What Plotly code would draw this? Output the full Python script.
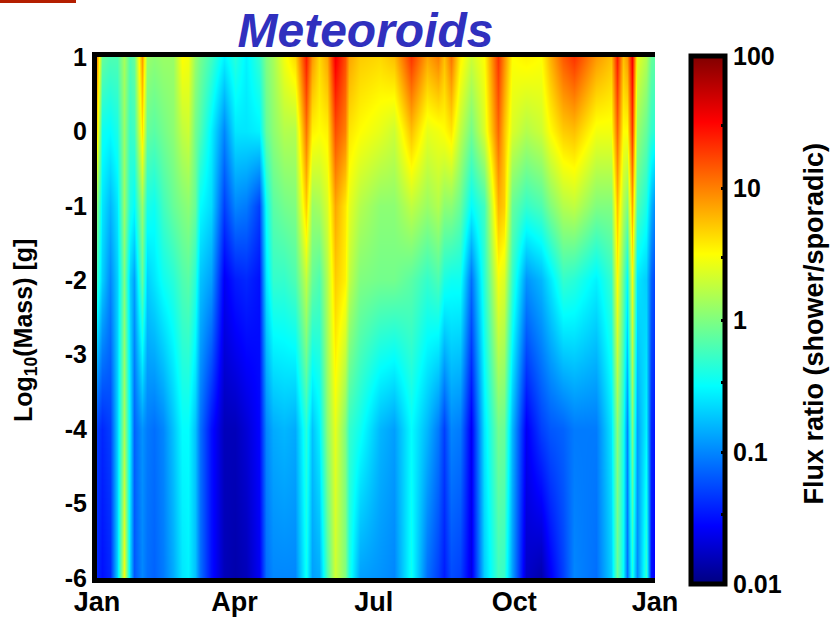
import plotly.graph_objects as go

W, H = 831, 620
PL, PR, PT, PB = 97, 655, 57, 578

days = [0, 3.1, 8.6, 13.4, 17.7, 21.8, 24.2, 29.7, 32.6, 37.4, 43.4, 49.4, 55.4, 59.7, 63.8, 67.4, 74.6, 83.0, 90.2, 97.4,
        105.8, 110.6, 115.4, 122.6, 129.8, 137.0, 140.6, 145.4, 150.2, 155.7, 162.2, 164.6, 171.8, 185.0, 194.5, 205.3,
        216.1, 223.3, 226.9, 231.7, 237.7, 244.9, 253.3, 262.2, 266.5, 271.3, 280.9, 290.5, 296.5, 304.9, 312.1, 326.5,
        336.1, 340.2, 343.8, 346.9, 349.8, 353.4, 358.9, 362.5, 365]

# log10(flux ratio) at each mass level
mass_p1 = [0.9, -0.1, -0.2, -0.2, 0.15, -0.2, -0.1, 0.9, 0.1, 0.05, 0.1, 0.1, 0.5, 0.45, 0.1, -0.05, -0.25, -0.55, -0.35, -0.55,
           -0.3, 0.0, 0.15, 0.45, 0.65, 1.4, 0.9, 0.65, 0.85, 1.55, 1.2, 0.85, 0.7, 0.65, 0.75, 1.3,
           0.85, 1.0, 0.75, 1.05, 0.55, 0.3, 0.5, 1.3, 0.95, 0.5, 0.55, 0.5, 0.8, 1.15, 1.3, 0.9,
           0.75, 1.4, 0.75, 0.9, 1.55, 0.4, 0.2, -0.1, -0.15]
mass_0 = [0.6, -0.45, -0.5, -0.4, 0.1, -0.3, -0.25, 0.6, -0.1, -0.15, -0.05, 0.05, 0.25, 0.3, -0.05, -0.2, -0.55, -1.0, -0.6, -0.6,
          -0.55, -0.1, 0.05, 0.2, 0.2, 1.05, 0.55, 0.5, 0.55, 1.2, 1.0, 0.6, 0.5, 0.4, 0.3, 0.75,
          0.4, 0.45, 0.5, 0.6, 0.25, -0.05, 0.35, 1.1, 0.75, 0.35, 0.2, 0.3, 0.5, 0.7, 0.75, 0.45,
          0.45, 1.1, 0.5, 0.5, 1.3, 0.1, -0.1, -0.3, -0.35]
mass_m1 = [0.0, -0.6, -0.8, -0.6, 0.1, -0.4, -0.5, 0.1, -0.4, -0.45, -0.25, -0.1, 0.0, 0.05, -0.1, -0.5, -0.65, -1.3, -1.0, -1.05,
           -1.3, -0.45, -0.15, -0.05, 0.0, 0.7, 0.1, 0.15, 0.35, 0.85, 0.6, 0.4, 0.2, 0.05, 0.05, 0.25,
           0.1, 0.2, 0.05, 0.05, -0.1, -0.5, -0.25, 0.8, 0.7, -0.1, -0.3, -0.2, 0.0, 0.2, 0.25, 0.0,
           0.0, 0.75, 0.2, 0.0, 0.85, -0.2, -0.4, -0.8, -1.0]
mass_m2 = [-0.3, -0.7, -1.0, -0.7, 0.0, -0.7, -0.9, -0.1, -0.7, -0.6, -0.45, -0.35, -0.2, -0.15, -0.35, -0.75, -0.9, -1.6, -1.45, -1.4,
           -1.5, -0.6, -0.3, -0.3, -0.2, 0.25, -0.1, -0.2, 0.2, 0.7, 0.55, 0.25, 0.0, -0.05, -0.05, -0.15,
           -0.3, -0.2, -0.4, -0.45, -0.45, -1.1, -0.35, 0.45, 0.35, -0.3, -0.95, -0.8, -0.6, -0.3, -0.35, -0.55,
           -0.3, 0.5, -0.1, -0.5, 0.45, -0.6, -0.7, -1.15, -1.3]
mass_m4 = [-1.3, -1.4, -1.3, -0.7, 0.15, -0.6, -1.15, -0.95, -1.05, -1.1, -1.0, -0.75, -0.5, -0.5, -0.75, -1.1, -1.5, -1.8, -1.8, -1.7,
           -1.55, -1.0, -0.85, -0.8, -0.85, -0.35, -0.75, -0.55, 0.05, 0.4, 0.0, -0.3, -0.45, -0.8, -0.9, -0.5,
           -0.8, -1.05, -1.3, -1.0, -1.05, -1.6, -0.6, -0.05, -0.1, -0.8, -1.6, -1.3, -1.2, -1.15, -1.05, -1.05,
           -0.6, 0.05, -0.4, -1.0, 0.0, -0.9, -0.55, -1.4, -1.5]
mass_m6 = [-1.4, -1.5, -1.4, -0.7, 0.45, -0.7, -1.2, -1.0, -1.1, -1.15, -1.05, -0.85, -0.6, -0.55, -0.75, -1.1, -1.5, -1.8, -1.85, -1.8,
           -1.6, -1.1, -1.0, -1.0, -1.0, -0.45, -0.9, -0.85, -0.2, 0.3, 0.0, -0.4, -0.9, -0.95, -1.0, -0.45,
           -1.1, -1.3, -1.45, -1.25, -1.3, -1.65, -0.7, -0.25, -0.3, -0.9, -1.75, -1.85, -1.6, -1.3, -1.0, -1.1,
           -0.7, -0.1, -0.5, -1.1, -0.4, -1.0, -0.3, -1.5, -1.6]

mass_levels = [-6, -4, -2, -1, 0, 1]
flux_rows = [mass_m6, mass_m4, mass_m2, mass_m1, mass_0, mass_p1]

month_ticks = [0, 90, 181, 273, 365]
month_labels = ["Jan", "Apr", "Jul", "Oct", "Jan"]
mass_ticks = [1, 0, -1, -2, -3, -4, -5, -6]
cbar_ticks = [-2, -1.477, -1, -0.477, 0, 0.477, 1, 1.477, 2]
cbar_labels = ["0.01", "", "0.1", "", "1", "", "10", "", "100"]

jet = [[0, "rgb(0,0,128)"], [0.11, "rgb(0,0,255)"], [0.375, "rgb(0,255,255)"], [0.625, "rgb(255,255,0)"],
       [0.875, "rgb(255,0,0)"], [1, "rgb(128,0,0)"]]

FONT = "Liberation Sans"
BOLD = dict(family=FONT, color="black", weight="bold")

fig = go.Figure(go.Heatmap(
    x=days, y=mass_levels, z=flux_rows, zmin=-2, zmax=2, zsmooth="best", colorscale=jet,
    hoverinfo="skip",
    colorbar=dict(
        x=691 / W, xanchor="left", thickness=34, thicknessmode="pixels", xpad=0, ypad=0,
        y=1 - 56 / H, yanchor="top", len=528 / H, lenmode="fraction",
        outlinecolor="black", outlinewidth=5, borderwidth=0,
        tickmode="array", tickvals=cbar_ticks, ticktext=cbar_labels,
        ticks="inside", ticklen=6, tickwidth=3, tickcolor="black",
        tickfont=dict(size=25, **BOLD),
    ),
))

fig.update_layout(
    width=W, height=H, margin=dict(l=0, r=0, t=0, b=0, autoexpand=False), paper_bgcolor="white", plot_bgcolor="white",
    title=dict(text="Meteoroids", x=365.5 / W, xanchor="center", y=1 - 30 / H, yanchor="middle",
               font=dict(family=FONT, size=48, color="rgb(48,48,190)", weight="bold", style="italic")),
    xaxis=dict(domain=[PL / W, PR / W], range=[0, 365], tickmode="array", tickvals=month_ticks, ticktext=month_labels,
               ticks="", showgrid=False, zeroline=False, showline=True, linecolor="black", linewidth=5, mirror=True,
               tickfont=dict(size=27, **BOLD), ticklabelstandoff=-4),
    yaxis=dict(domain=[1 - PB / H, 1 - PT / H], range=[-6, 1], tickmode="array", tickvals=mass_ticks,
               ticktext=[str(v) for v in mass_ticks], ticks="", showgrid=False, zeroline=False,
               showline=True, linecolor="black", linewidth=5, mirror=False,
               tickfont=dict(size=25, **BOLD)),
    annotations=[
        dict(text="Flux ratio (shower/sporadic)", xref="paper", yref="paper", x=813 / W, y=1 - 323.5 / H,
             xanchor="center", yanchor="middle", textangle=-90, showarrow=False, font=dict(size=27, **BOLD)),
        dict(text="Log<sub>10</sub>(Mass) [g]", xref="paper", yref="paper", x=25 / W, y=1 - 331 / H,
             xanchor="center", yanchor="middle", textangle=-90, showarrow=False, font=dict(size=25, **BOLD)),
    ],
    shapes=[dict(type="rect", xref="paper", yref="paper", x0=0, x1=76 / W, y0=1 - 3 / H, y1=1,
                 fillcolor="rgb(180,30,0)", line=dict(width=0))],
)

fig.write_html("out.html", post_script="document.body.style.margin='0';", config={"displayModeBar": False})
